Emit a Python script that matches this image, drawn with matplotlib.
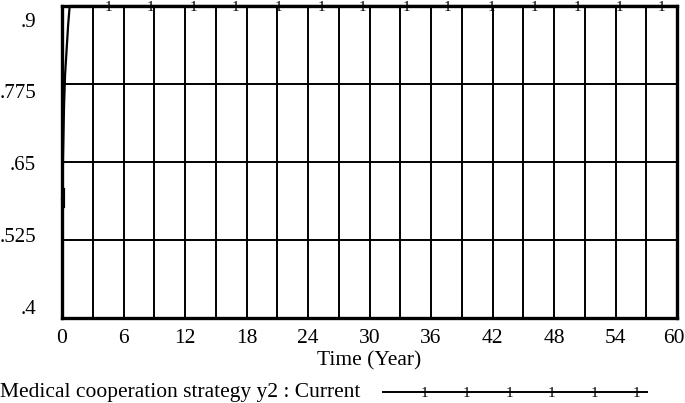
import matplotlib
matplotlib.use('Agg')
import matplotlib.pyplot as plt
import matplotlib.transforms as mtransforms
import numpy as np

# series: Medical cooperation strategy y2 (Current run)
time_years = [0, 0.05, 0.1, 0.2, 0.3, 0.45, 0.6, 0.75, 1, 60]
strategy_y2 = [0.59, 0.61, 0.66, 0.74, 0.79, 0.83, 0.87, 0.9, 0.9, 0.9]
marker_times = [4.5, 8.6, 12.8, 16.9, 21.1, 25.3, 29.3, 33.6, 37.6, 41.9, 46.1, 50.3, 54.4, 58.5]

x_ticks = list(range(0, 61, 6))
y_ticks = [0.4, 0.525, 0.65, 0.775, 0.9]
y_labels = ['.4', '.525', '.65', '.775', '.9']
legend_label = 'Medical cooperation strategy y2 : Current'

plt.rcParams['font.family'] = ['Liberation Serif', 'DejaVu Serif']
FS = 15.5

fig = plt.figure(figsize=(6.85, 4.03), dpi=100)
ax = fig.add_axes([62 / 685, 1 - 318 / 403, 615 / 685, 312 / 403])

ax.set_xlim(0, 60)
ax.set_ylim(0.4, 0.9)

# grid: every 3 years, every quarter of range
for t in range(3, 60, 3):
    ax.axvline(t, color='black', lw=1.4, zorder=1)
for v in y_ticks[1:-1]:
    ax.axhline(v, color='black', lw=1.4, zorder=1)

ax.plot(time_years, strategy_y2, color='black', lw=1.6, clip_on=False, zorder=3)
ax.plot([0.1, 0.1], [0.58, 0.605], color='black', lw=3, zorder=3)
for t in marker_times:
    y = np.interp(t, time_years, strategy_y2)
    ax.text(t, y - 0.003, '1', fontsize=11, ha='center', va='center', zorder=4, clip_on=False)

for s in ax.spines.values():
    s.set_linewidth(2.4)
    s.set_zorder(2)

ax.set_xticks(x_ticks)
ax.set_xticklabels([str(x) for x in x_ticks], fontsize=FS)
ax.set_yticks([])
ax.tick_params(axis='x', length=0, pad=8)
# last label sits a little to the left so it stays inside the picture
last = ax.get_xticklabels()[-1]
last.set_transform(last.get_transform() + mtransforms.ScaledTranslation(-3 / 100, 0, fig.dpi_scale_trans))

# vensim puts the value labels a bit inward from the grid lines
mid = 0.65
for v, lab in zip(y_ticks, y_labels):
    ax.text(-26 / 615, mid + (v - mid) * 0.92 - 0.006, lab, fontsize=15, ha='right', va='center',
            transform=ax.get_yaxis_transform())

ax.set_xlabel('Time (Year)', fontsize=FS, labelpad=2)

# legend row
fig.text(0, 1 - 393 / 403, legend_label, fontsize=FS, ha='left', va='center')
leg_ax = fig.add_axes([382 / 685, 1 - 400 / 403, 266 / 685, 16 / 403])
leg_ax.set_xlim(0, 1)
leg_ax.set_ylim(-1, 1)
leg_ax.axis('off')
leg_ax.plot([0, 1], [0, 0], color='black', lw=1.4)
for p in np.linspace(0.158, 0.957, 6):
    leg_ax.text(p, -0.2, '1', fontsize=11, ha='center', va='center')

plt.savefig('out.png', dpi=100)
plt.close()
